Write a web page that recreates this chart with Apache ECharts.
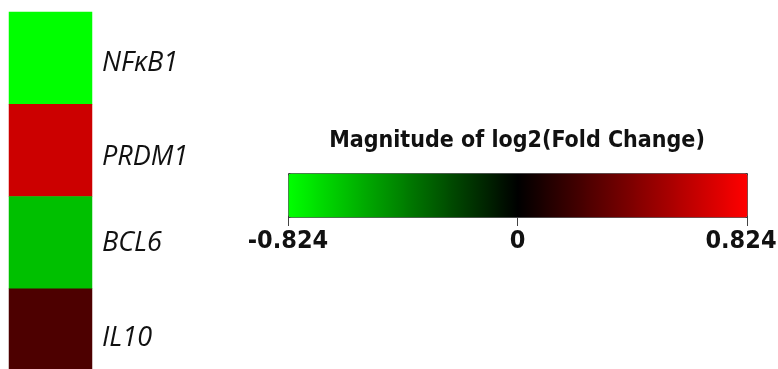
<!DOCTYPE html>
<html>
<head>
<meta charset="utf-8">
<script src="https://cdn.jsdelivr.net/npm/echarts@6/dist/echarts.min.js"></script>
<style>html,body{margin:0;padding:0;background:#fff}#c{width:778px;height:369px}</style>
</head>
<body>
<div id="c"></div>
<script>
var genes = ['NFκB1', 'PRDM1', 'BCL6', 'IL10'];
var foldChange = [-0.824, 0.66, -0.62, 0.25];
var scaleMin = -0.824;
var scaleMax = 0.824;
var legendTitle = 'Magnitude of log2(Fold Change)';
var tickValues = [-0.824, 0, 0.824];
var tickLabels = ['-0.824', '0', '0.824'];

var labelShift = [11, 14, 1, 6];
var rich = {};
genes.forEach(function (g, i) {
  rich['r' + i] = {
    fontFamily: 'Open Sans', fontStyle: 'italic', fontSize: 27, color: '#111',
    padding: [labelShift[i], 0, 0, 0]
  };
});
var tickRich = {
  t: {fontFamily: 'DejaVu Sans Condensed', fontWeight: 'bold', fontSize: 25, color: '#111'},
  e: {fontFamily: 'DejaVu Sans Condensed', fontWeight: 'bold', fontSize: 25, color: '#111', padding: [0, 12, 0, 0]}
};

var data = foldChange.map(function (v, i) { return [0, i, v]; });

var chart = echarts.init(document.getElementById('c'), null, {renderer: 'canvas'});
chart.setOption({
  animation: false,
  backgroundColor: '#fff',
  grid: [
    {left: 9, top: 12, width: 83, height: 369, outerBoundsMode: 'none', containLabel: false},
    {left: 288, top: 173, width: 459, height: 44, outerBoundsMode: 'none', containLabel: false}
  ],
  xAxis: [
    {type: 'category', data: [''], gridIndex: 0, show: false},
    {type: 'value', gridIndex: 1, min: scaleMin, max: scaleMax, interval: scaleMax,
     position: 'bottom',
     axisLine: {show: false}, splitLine: {show: false},
     axisTick: {show: true, length: 9, lineStyle: {color: '#444', width: 1}},
     axisLabel: {
       margin: 12, hideOverlap: false,
       formatter: function (v) {
         for (var i = 0; i < tickValues.length; i++) {
           if (Math.abs(v - tickValues[i]) < 1e-6) {
             return (i === tickValues.length - 1 ? '{e|' : '{t|') + tickLabels[i] + '}';
           }
         }
         return '';
       },
       rich: tickRich
     }}
  ],
  yAxis: [
    {type: 'category', data: genes, gridIndex: 0, inverse: true, position: 'right',
     axisLine: {show: false}, axisTick: {show: false}, splitLine: {show: false},
     axisLabel: {
       margin: 10, align: 'left',
       formatter: function (v) { var i = genes.indexOf(v); return '{r' + i + '|' + v + '}'; },
       rich: rich
     }},
    {type: 'value', gridIndex: 1, show: false, min: 0, max: 1}
  ],
  visualMap: {
    type: 'continuous',
    min: scaleMin, max: scaleMax,
    orient: 'horizontal',
    left: 288, top: 173,
    itemWidth: 44, itemHeight: 459,
    padding: 0,
    borderColor: '#3a3a3a', borderWidth: 1,
    text: null, calculable: false, showLabel: false,
    hoverLink: false,
    seriesIndex: 0,
    inRange: {color: ['#00ff00', '#000000', '#ff0000']}
  },
  graphic: [
    {type: 'text', x: 517, y: 141,
     style: {text: legendTitle, fontFamily: 'DejaVu Sans Condensed', fontWeight: 'bold', fontSize: 23, fill: '#111',
             textAlign: 'center', textVerticalAlign: 'middle'}}
  ],
  series: [{
    type: 'heatmap', xAxisIndex: 0, yAxisIndex: 0, data: data,
    itemStyle: {borderWidth: 0}, emphasis: {disabled: true}
  }]
});
</script>
</body>
</html>
